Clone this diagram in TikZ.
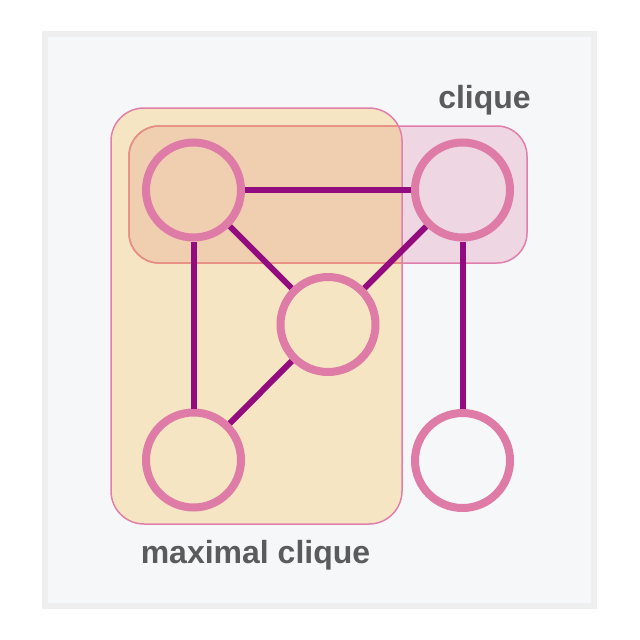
\documentclass[tikz,border=0pt]{standalone}
\usepackage{fontspec}
\setmainfont{Liberation Sans}
\definecolor{framegray}{HTML}{EFEFF0}
\definecolor{paper}{HTML}{F6F7F9}
\definecolor{maxfill}{HTML}{F6E5C3}
\definecolor{cliqfill}{HTML}{EFD6E3}
\definecolor{bothfill}{HTML}{F0CFB0}
\definecolor{boxpink}{HTML}{E07FAC}
\definecolor{boxsalmon}{HTML}{E8907E}
\definecolor{ringpink}{HTML}{DE7BA7}
\definecolor{edgepurple}{HTML}{930C7F}
\definecolor{tagtext}{HTML}{5B5B5B}
\tikzset{
  vertex/.style={circle,draw=ringpink,line width=8pt,minimum size=95pt,inner sep=0pt},
  edge/.style={draw=edgepurple,line width=6pt},
  tag/.style={text=tagtext,font=\fontsize{32}{38}\selectfont\bfseries,anchor=base,inner sep=0pt},
}
\begin{document}
\begin{tikzpicture}[x=1pt,y=-1pt]
  \useasboundingbox (0,0) rectangle (640,640);
  % frame
  \draw[framegray,fill=paper,line width=6pt] (45,34) rectangle (594,606);
  % boxes
  \fill[maxfill,rounded corners=33pt] (111,108) rectangle (402,524);
  \fill[cliqfill,rounded corners=30pt] (129,126) rectangle (527,263);
  \begin{scope}
    \clip[rounded corners=33pt] (111,108) rectangle (402,524);
    \fill[bothfill,rounded corners=30pt] (129,126) rectangle (527,263);
  \end{scope}
  \draw[boxpink,line width=1.5pt,rounded corners=30pt] (129,126) rectangle (527,263);
  \draw[boxpink,line width=1.5pt,rounded corners=33pt] (111,108) rectangle (402,524);
  \begin{scope}
    \clip[rounded corners=33pt] (111,108) rectangle (401,524);
    \draw[boxsalmon,line width=1.5pt,rounded corners=30pt] (129,126) rectangle (527,263);
  \end{scope}
  % vertices
  \node[vertex] (tl) at (193.5,190) {};
  \node[vertex] (tr) at (462.5,190) {};
  \node[vertex] (mid) at (328,324.5) {};
  \node[vertex] (bl) at (193.5,460) {};
  \node[vertex] (br) at (462.5,460.5) {};
  % edges
  \draw[edge] (tl) -- (tr);
  \draw[edge] (tl) -- (mid);
  \draw[edge] (tl) -- (bl);
  \draw[edge] (tr) -- (mid);
  \draw[edge] (tr) -- (br);
  \draw[edge] (mid) -- (bl);
  % labels
  \node[tag] (cliquetag) at (484.5,108) {clique};
  \node[tag] (maximaltag) at (255.5,563) {maximal clique};
\end{tikzpicture}
\end{document}
